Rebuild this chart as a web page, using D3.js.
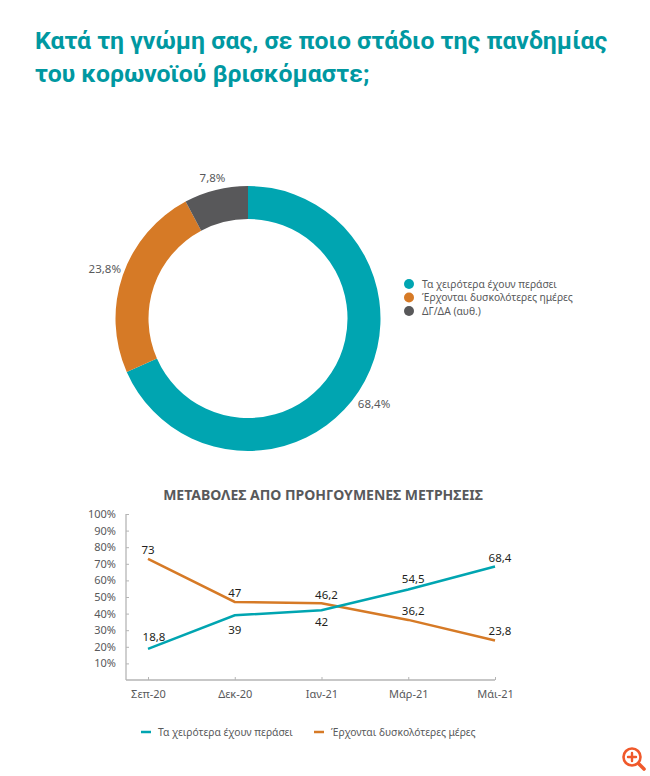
<!DOCTYPE html>
<html>
<head>
<meta charset="utf-8">
<script src="https://cdn.jsdelivr.net/npm/d3@7"></script>
<style>
  html, body { margin: 0; padding: 0; background: #fff; }
  svg { display: block; }
  text { font-family: "Noto Sans", sans-serif; }
</style>
</head>
<body>
<svg id="chart" width="650" height="776"></svg>
<script>
const titleLines = ["Κατά τη γνώμη σας, σε ποιο στάδιο της πανδημίας", "του κορωνοϊού βρισκόμαστε;"];

// donut
const pieLabels = ["Τα χειρότερα έχουν περάσει", "Έρχονται δυσκολότερες ημέρες", "ΔΓ/ΔΑ (αυθ.)"];
const pieValues = [68.4, 23.8, 7.8];

// line chart
const lineTitle = "ΜΕΤΑΒΟΛΕΣ ΑΠΟ ΠΡΟΗΓΟΥΜΕΝΕΣ ΜΕΤΡΗΣΕΙΣ";
const months = ["Σεπ-20", "Δεκ-20", "Ιαν-21", "Μάρ-21", "Μάι-21"];
const betterValues = [18.8, 39, 42, 54.5, 68.4];
const worseValues = [73, 47, 46.2, 36.2, 23.8];
const betterName = "Τα χειρότερα έχουν περάσει";
const worseName = "Έρχονται δυσκολότερες μέρες";
const yTicks = [10, 20, 30, 40, 50, 60, 70, 80, 90, 100];

const teal = "#00a5b1";
const orange = "#d67a26";
const grey = "#58585a";
const titleColor = "#0098a1";
const textColor = "#58595b";
const axisColor = "#b5b5b5";

const comma = v => String(v).replace(".", ",");
const svg = d3.select("#chart");

// title
svg.selectAll(".title")
  .data(titleLines)
  .join("text")
  .attr("class", "title")
  .attr("x", 35)
  .attr("y", (d, i) => 49 + i * 33)
  .attr("fill", titleColor)
  .attr("font-size", 24.8)
  .attr("font-weight", 700)
  .style("font-family", "Roboto, sans-serif")
  .text(d => d);

// donut
const cx = 248, cy = 318.5, outer = 132.5, inner = 99.5;
const pie = d3.pie().sort(null);
const arc = d3.arc().innerRadius(inner).outerRadius(outer);
const pieColors = [teal, orange, grey];
const donut = svg.append("g").attr("transform", "translate(" + cx + "," + cy + ")");
const arcs = pie(pieValues);

donut.selectAll("path")
  .data(arcs)
  .join("path")
  .attr("d", arc)
  .attr("fill", (d, i) => pieColors[i]);

const labelArc = d3.arc().innerRadius(outer + 18).outerRadius(outer + 18);
const labelNudge = [[0, 4], [-1, 1], [1, 6]];
donut.selectAll("text")
  .data(arcs)
  .join("text")
  .attr("x", (d, i) => labelArc.centroid(d)[0] + labelNudge[i][0])
  .attr("y", (d, i) => labelArc.centroid(d)[1] + labelNudge[i][1])
  .attr("text-anchor", "middle")
  .attr("dominant-baseline", "middle")
  .attr("fill", textColor)
  .attr("font-size", 11.5)
  .text((d, i) => comma(pieValues[i]) + "%");

// donut legend
const pieLegend = svg.append("g").attr("transform", "translate(409,284)")
  .selectAll("g")
  .data(pieLabels)
  .join("g")
  .attr("transform", (d, i) => "translate(0," + i * 13.5 + ")");
pieLegend.append("circle")
  .attr("r", 5)
  .attr("fill", (d, i) => pieColors[i]);
pieLegend.append("text")
  .attr("x", 13)
  .attr("dy", "0.35em")
  .attr("fill", textColor)
  .attr("font-size", 10.3)
  .text(d => d);

// line chart
const x = d3.scalePoint().domain(months).range([148, 495]);
const y = d3.scaleLinear().domain([0, 100]).range([680, 514]);

svg.append("text")
  .attr("x", 323)
  .attr("y", 500)
  .attr("text-anchor", "middle")
  .attr("fill", textColor)
  .attr("font-size", 14)
  .attr("font-weight", 700)
  .text(lineTitle);

const xAxis = svg.append("g")
  .attr("transform", "translate(0,680)")
  .call(d3.axisBottom(x).tickSize(-3).tickPadding(10));
const yAxis = svg.append("g")
  .attr("transform", "translate(126,0)")
  .call(d3.axisLeft(y).tickValues(yTicks).tickSize(-3).tickPadding(10).tickFormat(d => d + "%"));

[xAxis, yAxis].forEach(a => {
  a.select(".domain").remove();
  a.selectAll("line").attr("stroke", axisColor);
  a.selectAll("text")
    .attr("fill", textColor)
    .attr("font-size", 11)
    .style("font-family", '"Noto Sans", sans-serif');
});
yAxis.selectAll(".tick line").attr("x2", 3);

// axis rails run from the y axis to the last month
svg.append("line")
  .attr("x1", 126).attr("x2", x(months[4]))
  .attr("y1", y(0)).attr("y2", y(0))
  .attr("stroke", axisColor).attr("stroke-width", 1.3);
svg.append("line")
  .attr("x1", 126).attr("x2", 126)
  .attr("y1", y(0)).attr("y2", y(100))
  .attr("stroke", axisColor).attr("stroke-width", 1.3);

const line = d3.line().x((d, i) => x(months[i])).y(d => y(d));

const series = [
  { values: worseValues, color: orange, dx: [0, 0, 5, 5, 5], dy: [-5, -5, -4, -5, -5] },
  { values: betterValues, color: teal, dx: [6, 0, 0, 5, 5], dy: [-8, 19, 16, -7, -4] }
];

series.forEach(s => {
  svg.append("path")
    .datum(s.values)
    .attr("fill", "none")
    .attr("stroke", s.color)
    .attr("stroke-width", 2.5)
    .attr("d", line);

  svg.append("g").selectAll("text")
    .data(s.values)
    .join("text")
    .attr("x", (d, i) => x(months[i]) + s.dx[i])
    .attr("y", (d, i) => y(d) + s.dy[i])
    .attr("text-anchor", "middle")
    .attr("fill", "#231f20")
    .attr("font-size", 11.5)
    .text(d => comma(d));
});

// line chart legend
const lineLegend = svg.append("g").attr("transform", "translate(0,732)")
  .selectAll("g")
  .data([{ name: betterName, color: teal, at: 141 }, { name: worseName, color: orange, at: 314 }])
  .join("g")
  .attr("transform", d => "translate(" + d.at + ",0)");
lineLegend.append("line")
  .attr("x2", 10)
  .attr("stroke", d => d.color)
  .attr("stroke-width", 2.5);
lineLegend.append("text")
  .attr("x", 17)
  .attr("dy", "0.35em")
  .attr("fill", textColor)
  .attr("font-size", 10.3)
  .text(d => d.name);

// zoom icon, bottom right
const icon = svg.append("g")
  .attr("transform", "translate(632,757)")
  .attr("fill", "none")
  .attr("stroke", "#f0592b")
  .attr("stroke-linecap", "round");
icon.append("circle").attr("r", 8.5).attr("stroke-width", 2.6);
icon.append("path").attr("d", "M-4,0H4M0,-4V4").attr("stroke-width", 2.4);
icon.append("path").attr("d", "M7,7L12,12").attr("stroke-width", 3.6);
</script>
</body>
</html>
